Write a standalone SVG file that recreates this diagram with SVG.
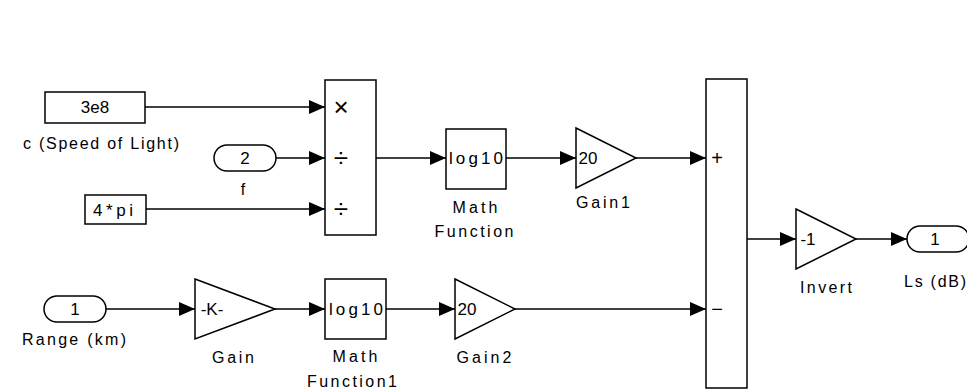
<svg xmlns="http://www.w3.org/2000/svg" width="967" height="391" viewBox="0 0 967 391">
<style>
.blk{fill:#fff;stroke:#000;stroke-width:1.5}
.ln{fill:none;stroke:#000;stroke-width:1.5}
text{font-family:"Liberation Sans",Arial,sans-serif;font-size:17px;fill:#000;text-anchor:middle;dominant-baseline:central}
.lbl{font-size:16px}
.sym{font-size:26px}
.sg{font-size:20px}
</style>
<defs>
<marker id="ah" markerUnits="userSpaceOnUse" markerWidth="16" markerHeight="14" viewBox="0 0 16 14" refX="16" refY="7" orient="auto">
<path d="M0,0 L16,7 L0,14 z" fill="#000"/>
</marker>
</defs>
<rect width="967" height="391" fill="#fff"/>
<g id="connectors">
<line class="ln" x1="145" y1="107" x2="325" y2="107" marker-end="url(#ah)"/>
<line class="ln" x1="276" y1="158" x2="325" y2="158" marker-end="url(#ah)"/>
<line class="ln" x1="146" y1="209" x2="325" y2="209" marker-end="url(#ah)"/>
<line class="ln" x1="376" y1="158" x2="446" y2="158" marker-end="url(#ah)"/>
<line class="ln" x1="506" y1="158" x2="576" y2="158" marker-end="url(#ah)"/>
<line class="ln" x1="636" y1="158" x2="706" y2="158" marker-end="url(#ah)"/>
<line class="ln" x1="106" y1="309" x2="195" y2="309" marker-end="url(#ah)"/>
<line class="ln" x1="275" y1="309" x2="325" y2="309" marker-end="url(#ah)"/>
<line class="ln" x1="386" y1="309" x2="455" y2="309" marker-end="url(#ah)"/>
<line class="ln" x1="515" y1="309" x2="706" y2="309" marker-end="url(#ah)"/>
<line class="ln" x1="747" y1="239" x2="796" y2="239" marker-end="url(#ah)"/>
<line class="ln" x1="856" y1="239" x2="907" y2="239" marker-end="url(#ah)"/>
</g>
<g id="c_speed_of_light">
<rect class="blk" x="45" y="92" width="100" height="31"/>
<text x="95" y="107">3e8</text>
<text class="lbl" x="101" y="143" textLength="156" lengthAdjust="spacing">c (Speed of Light)</text>
</g>
<g id="f">
<rect class="blk" x="214" y="145" width="62" height="26" rx="13"/>
<text x="245" y="158">2</text>
<text class="lbl" x="243" y="189">f</text>
</g>
<g id="four_pi">
<rect class="blk" x="85" y="195" width="61" height="29"/>
<text x="113" y="210" textLength="40" lengthAdjust="spacing">4*pi</text>
</g>
<g id="product">
<rect class="blk" x="325" y="80" width="51" height="155"/>
<text class="sym" x="341" y="107">×</text>
<text class="sym" x="341" y="158">÷</text>
<text class="sym" x="341" y="209">÷</text>
</g>
<g id="math_function">
<rect class="blk" x="446" y="129" width="60" height="60"/>
<text x="476" y="158" textLength="54" lengthAdjust="spacing">log10</text>
<text class="lbl" x="475" y="207" textLength="45" lengthAdjust="spacing">Math</text>
<text class="lbl" x="474" y="231" textLength="79" lengthAdjust="spacing">Function</text>
</g>
<g id="gain1">
<polygon class="blk" points="576,128 636,158 576,188"/>
<text x="588" y="158">20</text>
<text class="lbl" x="603" y="202" textLength="54" lengthAdjust="spacing">Gain1</text>
</g>
<g id="sum">
<rect class="blk" x="706" y="79" width="41" height="309"/>
<text class="sg" x="717" y="158">+</text>
<text class="sg" x="717" y="309">−</text>
</g>
<g id="invert">
<polygon class="blk" points="796,209 856,239 796,269"/>
<text x="808" y="239">-1</text>
<text class="lbl" x="826" y="287" textLength="52" lengthAdjust="spacing">Invert</text>
</g>
<g id="ls_db">
<rect class="blk" x="907" y="226" width="62" height="26" rx="13"/>
<text x="935" y="239">1</text>
<text class="lbl" x="935" y="281" textLength="62" lengthAdjust="spacing">Ls (dB)</text>
</g>
<g id="range_km">
<rect class="blk" x="44" y="296" width="62" height="26" rx="13"/>
<text x="75" y="309">1</text>
<text class="lbl" x="74" y="339" textLength="104" lengthAdjust="spacing">Range (km)</text>
</g>
<g id="gain">
<polygon class="blk" points="195,279 275,309 195,339"/>
<text x="212" y="309">-K-</text>
<text class="lbl" x="233" y="357" textLength="42" lengthAdjust="spacing">Gain</text>
</g>
<g id="math_function1">
<rect class="blk" x="325" y="279" width="61" height="60"/>
<text x="356" y="309" textLength="54" lengthAdjust="spacing">log10</text>
<text class="lbl" x="355" y="356" textLength="45" lengthAdjust="spacing">Math</text>
<text class="lbl" x="352" y="381" textLength="90" lengthAdjust="spacing">Function1</text>
</g>
<g id="gain2">
<polygon class="blk" points="455,279 515,309 455,339"/>
<text x="467" y="309">20</text>
<text class="lbl" x="484" y="357" textLength="55" lengthAdjust="spacing">Gain2</text>
</g>
</svg>
